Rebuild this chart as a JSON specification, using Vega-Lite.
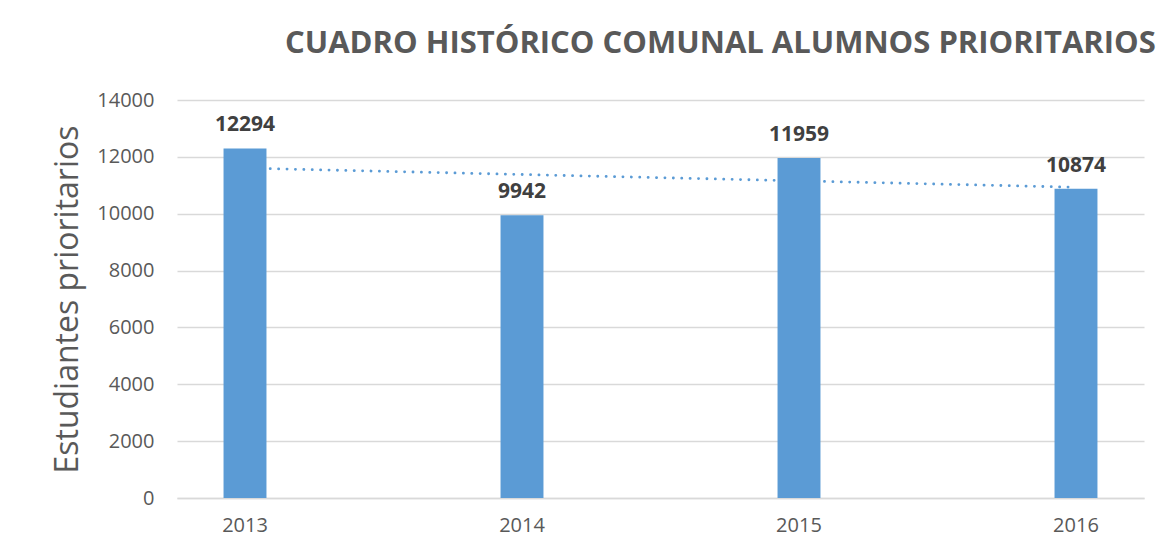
{
  "$schema": "https://vega.github.io/schema/vega-lite/v6.json",
  "autosize": "none",
  "width": 967,
  "height": 398,
  "padding": {"left": 177, "top": 100, "right": 26, "bottom": 60},
  "background": "white",
  "title": {
    "text": "CUADRO HISTÓRICO COMUNAL ALUMNOS PRIORITARIOS",
    "anchor": "start",
    "frame": "group",
    "dx": 108,
    "offset": 6,
    "baseline": "alphabetic",
    "font": "Open Sans",
    "fontSize": 31,
    "fontWeight": "bold",
    "color": "#595959"
  },
  "data": {
    "values": [
      {"year": "2013", "students": 12294, "trend": 11604},
      {"year": "2014", "students": 9942, "trend": 11379},
      {"year": "2015", "students": 11959, "trend": 11155},
      {"year": "2016", "students": 10874, "trend": 10931}
    ]
  },
  "encoding": {
    "x": {
      "field": "year",
      "type": "ordinal",
      "scale": {"paddingInner": 0.845, "paddingOuter": 0.168},
      "axis": {
        "title": null,
        "labelAngle": 0,
        "labelFont": "Open Sans",
        "labelFontSize": 20,
        "labelColor": "#595959",
        "labelPadding": 17,
        "ticks": false,
        "domainColor": "#D9D9D9",
        "domainWidth": 1.5,
        "grid": false
      }
    }
  },
  "layer": [
    {
      "mark": {"type": "line", "color": "#5B9BD5", "strokeWidth": 2.8, "strokeDash": [0.1, 8.3], "strokeCap": "round"},
      "encoding": {
        "y": {"field": "trend", "type": "quantitative", "scale": {"domain": [0, 14000]}}
      }
    },
    {
      "mark": {"type": "bar", "color": "#5B9BD5"},
      "encoding": {
        "y": {
          "field": "students",
          "type": "quantitative",
          "scale": {"domain": [0, 14000]},
          "axis": {
            "title": "Estudiantes prioritarios",
            "titleFont": "Open Sans",
            "titleFontSize": 32,
            "titleFontWeight": "normal",
            "titleColor": "#595959",
            "titlePadding": 12,
            "values": [0, 2000, 4000, 6000, 8000, 10000, 12000, 14000],
            "format": "d",
            "labelFont": "Open Sans",
            "labelFontSize": 20,
            "labelColor": "#595959",
            "labelPadding": 23,
            "ticks": false,
            "domain": false,
            "grid": true,
            "gridColor": "#D9D9D9",
            "gridWidth": 1.5
          }
        }
      }
    },
    {
      "mark": {"type": "text", "font": "Open Sans", "fontSize": 21, "fontWeight": "bold", "color": "#404040", "baseline": "alphabetic", "dy": -17},
      "encoding": {
        "y": {"field": "students", "type": "quantitative"},
        "text": {"field": "students", "type": "quantitative", "format": "d"}
      }
    }
  ],
  "config": {"view": {"stroke": null}}
}
